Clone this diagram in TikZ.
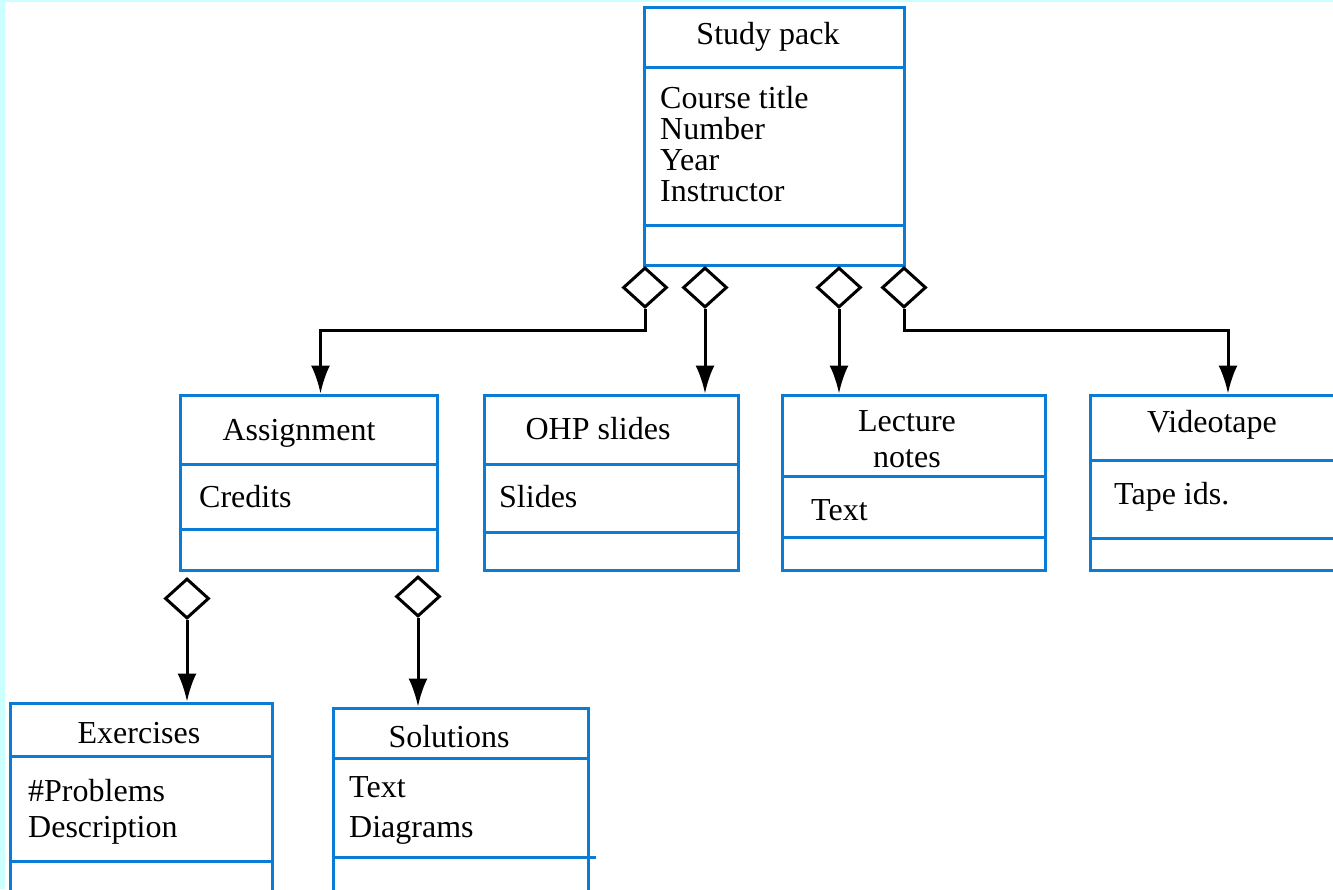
\documentclass[tikz,border=0pt]{standalone}
\usepackage{fontspec}
\setmainfont{Liberation Serif}
\usetikzlibrary{shapes.geometric,arrows.meta}
\definecolor{umlblue}{RGB}{10,124,214}
\definecolor{bgcyan}{RGB}{204,255,255}
\tikzset{
  cls/.style={draw=umlblue,line width=3pt,rectangle,inner sep=0pt},
  sep/.style={draw=umlblue,line width=3pt},
  agg/.style={diamond,draw,line width=3pt,fill=white,minimum width=44pt,minimum height=40pt,inner sep=0pt,anchor=north},
  conn/.style={line width=3pt,-{Latex[length=28pt,width=19pt]}},
  lbl/.style={font=\fontsize{32}{36}\selectfont,inner sep=0pt},
}
\begin{document}
\begin{tikzpicture}[x=1pt,y=-1pt]
\useasboundingbox (0,0) rectangle (1333,889);
\fill[bgcyan] (0,0) rectangle (1333,889);
\fill[white] (5,2) rectangle (1333,889);
\begin{scope}
\clip (0,0) rectangle (1333,889);
% top class
\node (study) at (774,136) [cls,minimum width=260pt,minimum height=258pt] {};
\draw[sep] (study.west |- 0,67) -- (study.east |- 0,67);
\draw[sep] (study.west |- 0,225) -- (study.east |- 0,225);
\node (studyname) at (768,37) [lbl] {Study pack};
\node (studyattr) at (660,144) [lbl,anchor=west,align=left,font=\fontsize{32}{31}\selectfont] {Course title\\Number\\Year\\Instructor};
% second row
\node (assign) at (308.5,482.5) [cls,minimum width=257pt,minimum height=175pt] {};
\draw[sep] (assign.west |- 0,464) -- (assign.east |- 0,464);
\draw[sep] (assign.west |- 0,529) -- (assign.east |- 0,529);
\node (assignname) at (299,433) [lbl] {Assignment};
\node (assignattr) at (199,497) [lbl,anchor=west] {Credits};
\node (ohp) at (611,482.5) [cls,minimum width=254pt,minimum height=175pt] {};
\draw[sep] (ohp.west |- 0,464) -- (ohp.east |- 0,464);
\draw[sep] (ohp.west |- 0,532) -- (ohp.east |- 0,532);
\node (ohpname) at (598,429) [lbl] {OHP slides};
\node (ohpattr) at (499,497) [lbl,anchor=west] {Slides};
\node (lect) at (913.5,482.5) [cls,minimum width=263pt,minimum height=175pt] {};
\draw[sep] (lect.west |- 0,476) -- (lect.east |- 0,476);
\draw[sep] (lect.west |- 0,537) -- (lect.east |- 0,537);
\node (lectname) at (907,439) [lbl,align=center] {Lecture\\notes};
\node (lectattr) at (811,510) [lbl,anchor=west] {Text};
\node (video) at (1225,482.5) [cls,minimum width=270pt,minimum height=175pt] {};
\draw[sep] (video.west |- 0,460) -- (video.east |- 0,460);
\draw[sep] (video.west |- 0,538) -- (video.east |- 0,538);
\node (videoname) at (1212,425) [lbl] {Videotape};
\node (videoattr) at (1114,497) [lbl,anchor=west] {Tape ids.};
% third row
\node (exer) at (141,811.5) [cls,minimum width=262pt,minimum height=217pt] {};
\draw[sep] (exer.west |- 0,756) -- (exer.east |- 0,756);
\draw[sep] (exer.west |- 0,861) -- (exer.east |- 0,861);
\node (exername) at (139,733) [lbl] {Exercises};
\node (exerattr) at (28,812) [lbl,anchor=west,align=left] {\#Problems\\Description};
\node (sol) at (460.5,814) [cls,minimum width=255pt,minimum height=212pt] {};
\draw[sep] (sol.west |- 0,758) -- (sol.east |- 0,758);
\draw[sep] (sol.west |- 0,857) -- ([xshift=6pt]sol.east |- 0,857);
\node (solname) at (449,737) [lbl] {Solutions};
\node (solattr) at (349,810) [lbl,anchor=west,align=left,font=\fontsize{32}{40}\selectfont] {Text\\Diagrams};
% aggregation links
\node (d1) at (645,266) [agg] {};
\node (d2) at (705,266) [agg] {};
\node (d3) at (839,266) [agg] {};
\node (d4) at (904,266) [agg] {};
\node (d5) at (187,577) [agg] {};
\node (d6) at (418,575) [agg] {};
\draw[conn] (d1.south) -- (d1.south |- 0,330) -| ([xshift=12pt]assign.north);
\draw[conn] (d2.south) -- (d2.south |- ohp.north);
\draw[conn] (d3.south) -- (d3.south |- lect.north);
\draw[conn] (d4.south) -- (d4.south |- 0,330) -| ([xshift=3pt]video.north);
\draw[conn] (d5.south) -- (d5.south |- exer.north);
\draw[conn] (d6.south) -- (d6.south |- sol.north);
\end{scope}
\end{tikzpicture}
\end{document}
